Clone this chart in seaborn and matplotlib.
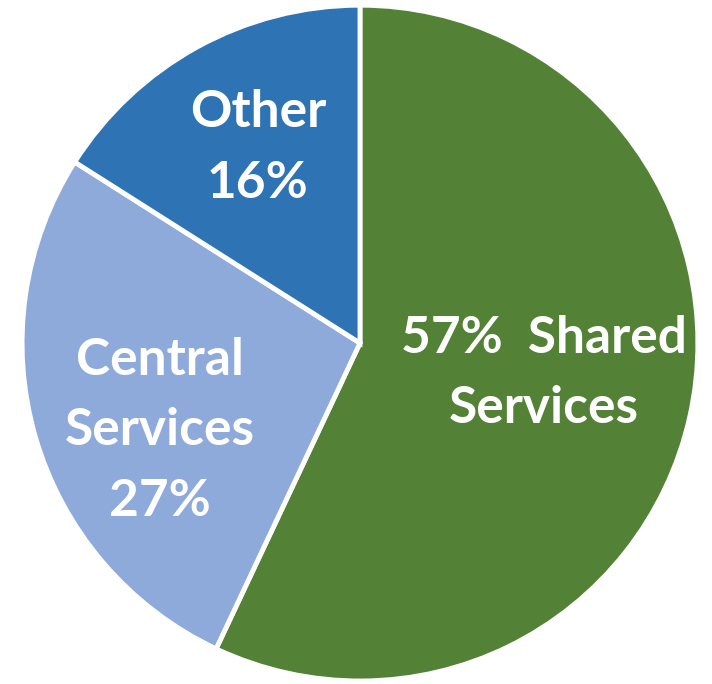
import matplotlib
matplotlib.use("Agg")
import matplotlib.pyplot as plt
import seaborn as sns

# data
segments = ["Shared Services", "Central Services", "Other"]
shares = [57, 27, 16]
colors = ["#538135", "#8eaadb", "#2e74b5"]

# label text and where it sits inside each wedge (data coords, pie radius = 1)
label_texts = ["57%  Shared\nServices", "Central\nServices\n27%", "Other\n16%"]
label_pos = [(0.545, -0.09), (-0.592, -0.26), (-0.302, 0.577)]

sns.set_theme(style="white")
plt.rcParams["font.family"] = ["Lato", "DejaVu Sans"]

fig = plt.figure(figsize=(7.12, 6.84), dpi=100)
ax = fig.add_axes([0.0309, 0.0044, 0.9494, 0.988])

ax.pie(
    shares,
    colors=colors,
    startangle=90,
    counterclock=False,
    radius=1.0,
    wedgeprops=dict(edgecolor="white", linewidth=3.5),
)

for txt, (x, y) in zip(label_texts, label_pos):
    ax.text(x, y, txt, ha="center", va="center", color="white",
            fontsize=37, fontweight="bold", linespacing=1.62)

ax.set_xlim(-1.0, 1.0)
ax.set_ylim(-1.0, 1.0)
ax.set_aspect("equal")
ax.axis("off")

fig.savefig("out.png", dpi=100, facecolor="white")
